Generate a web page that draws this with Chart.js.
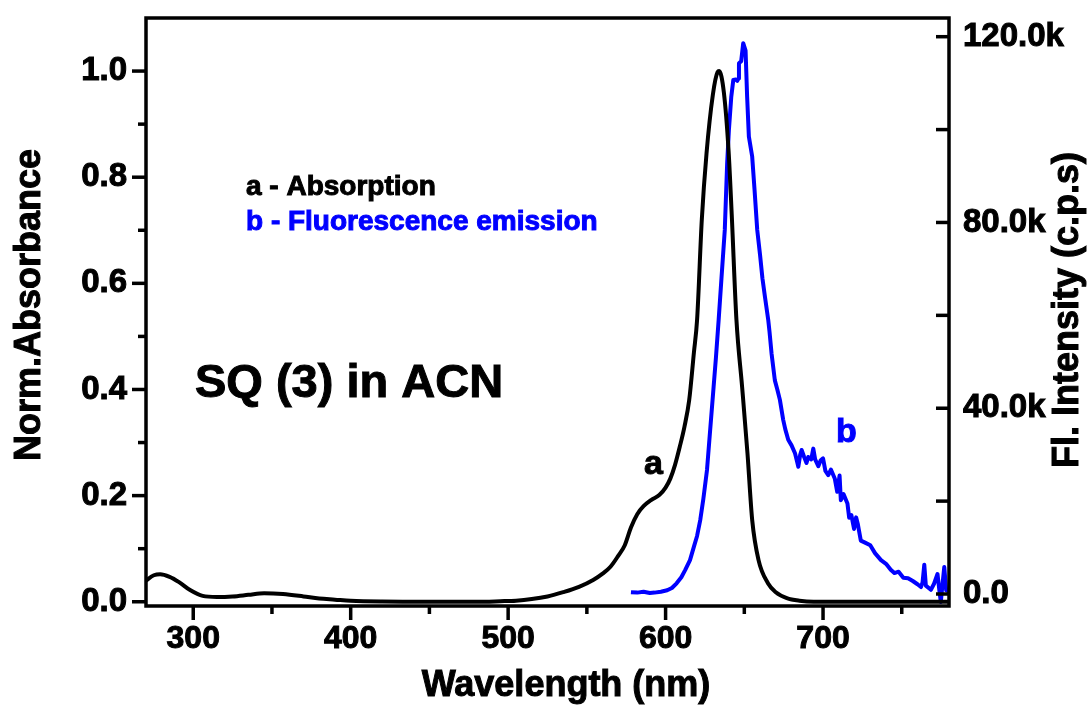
<!DOCTYPE html>
<html>
<head>
<meta charset="utf-8">
<title>SQ (3) in ACN</title>
<script src="https://cdn.jsdelivr.net/npm/chart.js@4.4.1/dist/chart.umd.min.js"></script>
<style>
    html, body { margin: 0; padding: 0; background: #fff; }
    #wrap { width: 1092px; height: 705px; position: relative; }
</style>
</head>
<body>
<div id="wrap"><canvas id="spectrum"></canvas></div>
<script>
// absorption (a), normalised
const absWavelength = [270, 275, 279, 285, 291, 298, 306, 315, 325, 335, 345, 357, 370, 380, 390, 400, 420, 450, 480, 495,
    505, 515, 525, 535, 545, 554, 560, 565, 570, 574, 578, 582, 586, 591, 596, 600, 603, 606, 609, 612,
    615, 618, 620, 623, 626, 630, 633, 634, 637, 640, 642, 645, 648.6, 652, 655, 659, 665, 670, 677, 685,
    694, 720, 750, 780];
const absValues = [0.040, 0.050, 0.052, 0.047, 0.037, 0.022, 0.011, 0.009, 0.010, 0.013, 0.016, 0.0145, 0.010, 0.006, 0.004, 0.002, 0.0005, 0.0, 0.0, 0.001,
    0.002, 0.005, 0.010, 0.018, 0.028, 0.041, 0.053, 0.066, 0.087, 0.106, 0.140, 0.165, 0.180, 0.192, 0.201, 0.215, 0.232, 0.258, 0.292, 0.330,
    0.380, 0.470, 0.531, 0.720, 0.845, 0.955, 0.998, 1.0, 0.960, 0.850, 0.730, 0.531, 0.405, 0.280, 0.154, 0.079, 0.035, 0.018, 0.007, 0.002,
    0.0, 0.0, 0.0, 0.0];

// fluorescence emission (b), counts per second
const flWavelength = [578, 582, 586, 590, 593, 597, 601, 604, 607, 610, 612.5, 615.5, 618, 620, 622, 624, 626.3, 628, 630.5, 632,
    633.7, 635.5, 637.6, 639.1, 640.2, 641.7, 643, 644.5, 645.5, 646.3, 646.6, 648, 649.3, 650.8, 651.8, 652.9, 655, 656.5, 658.2, 660,
    661.5, 663.1, 665.2, 666, 667.3, 669.4, 671, 672.6, 674.7, 676, 677.9, 680, 682.2, 683.5, 684.3, 685.5, 686.4, 688, 689.5, 690.6,
    692.5, 693.8, 695, 697, 698.5, 700, 701.5, 703.3, 705, 707.5, 709, 710.5, 711.3, 713, 715.5, 716.6, 718, 719.7, 721, 722,
    724, 727, 730, 733, 736.8, 740, 743, 745.3, 748, 751, 754, 757, 760, 762.2, 763.2, 764.3, 765.3, 768.5, 770.5, 772.7,
    773.8, 774.8, 776, 777, 778.2, 780];
const flValues = [400, 300, 500, 200, 300, 500, 800, 1300, 2300, 3600, 5200, 7300, 10200, 12500, 15900, 20500, 26700, 34000, 44600, 51000,
    59000, 68000, 78400, 92700, 99900, 107000, 110700, 110800, 110500, 111000, 114300, 114700, 118600, 117000, 107000, 98500, 94200, 87000, 78400, 73000,
    68000, 64000, 59000, 56500, 51800, 46000, 44000, 41800, 37500, 35500, 33200, 32000, 30300, 28500, 27400, 30000, 31000, 29500, 28200, 29500,
    29000, 31300, 29000, 27500, 28800, 29200, 26500, 25600, 26800, 24800, 22000, 25500, 20200, 21500, 19500, 16400, 17000, 14000, 16500, 15200,
    11500, 11000, 10500, 8800, 7300, 6500, 5200, 4500, 4800, 3500, 3400, 2800, 2100, 1500, 2500, 6300, 1800, 900, 2200, 4300,
    1000, -1700, 2500, 5800, 800, 500];

// tick values
const xMajorTicks = [300, 400, 500, 600, 700];
const xMinorTicks = [350, 450, 550, 650, 750];
const absMajorTicks = [0, 0.2, 0.4, 0.6, 0.8, 1.0];
const absMinorTicks = [0.1, 0.3, 0.5, 0.7, 0.9];
const flTicks = [0, 20000, 40000, 60000, 80000, 100000, 120000];
const flLabelTicks = [0, 40000, 80000, 120000];

const FONT = '"Liberation Sans", Arial, sans-serif';
const BLUE = '#0000FF';

const toPoints = (xs, ys) => xs.map((x, i) => ({ x, y: ys[i] }));

const setTicks = (values) => (scale) => { scale.ticks = values.map(v => ({ value: v })); };

// fixed axis box sizes, no extra room for overhanging labels
const fixBox = (w, h) => (s) => {
    if (w !== null) s.width = w;
    if (h !== null) s.height = h;
    s.paddingTop = 0;
    s.paddingBottom = 0;
    s.paddingLeft = 0;
    s.paddingRight = 0;
};

// heavy text: fill plus a thin outline in the same colour
const heavyText = (ctx, text, x, y, color) => {
    ctx.fillStyle = color;
    ctx.strokeStyle = color;
    ctx.lineWidth = 1;
    ctx.fillText(text, x, y);
    ctx.strokeText(text, x, y);
};

// frame, tick marks, titles and the text labels inside the plot
const decorations = {
    id: 'decorations',
    afterDraw: (chart) => {
        const { ctx, chartArea: a, scales } = chart;
        ctx.save();
        ctx.strokeStyle = '#000';
        ctx.lineWidth = 3.5;
        ctx.lineCap = 'butt';
        ctx.strokeRect(a.left, a.top, a.right - a.left, a.bottom - a.top);

        const line = (x1, y1, x2, y2) => {
            ctx.beginPath();
            ctx.moveTo(x1, y1);
            ctx.lineTo(x2, y2);
            ctx.stroke();
        };

        xMajorTicks.forEach(v => { const p = scales.x.getPixelForValue(v); line(p, a.bottom, p, a.bottom + 14); });
        xMinorTicks.forEach(v => { const p = scales.x.getPixelForValue(v); line(p, a.bottom, p, a.bottom + 8); });
        absMajorTicks.forEach(v => { const p = scales.y.getPixelForValue(v); line(a.left, p, a.left - 14, p); });
        absMinorTicks.forEach(v => { const p = scales.y.getPixelForValue(v); line(a.left, p, a.left - 8, p); });
        flTicks.forEach(v => { const p = scales.y1.getPixelForValue(v); line(a.right, p, a.right - 13, p); });

        ctx.textBaseline = 'alphabetic';

        // axis titles
        ctx.font = `bold 36px ${FONT}`;
        ctx.textAlign = 'center';
        heavyText(ctx, 'Wavelength (nm)', 566, 696, '#000');

        ctx.save();
        ctx.translate(40, 305);
        ctx.rotate(-Math.PI / 2);
        heavyText(ctx, 'Norm.Absorbance', 0, 0, '#000');
        ctx.restore();

        ctx.save();
        ctx.translate(1078, 310);
        ctx.rotate(-Math.PI / 2);
        heavyText(ctx, 'Fl. Intensity (c.p.s)', 0, 0, '#000');
        ctx.restore();

        // annotations
        ctx.textAlign = 'left';
        ctx.font = `bold 28px ${FONT}`;
        heavyText(ctx, 'a - Absorption', 246, 195, '#000');
        heavyText(ctx, 'b - Fluorescence emission', 246, 230, BLUE);

        ctx.font = `bold 47px ${FONT}`;
        heavyText(ctx, 'SQ (3) in ACN', 195, 397, '#000');

        ctx.font = `bold 34px ${FONT}`;
        heavyText(ctx, 'a', 644, 474, '#000');
        heavyText(ctx, 'b', 836, 442, BLUE);

        ctx.restore();
    }
};

const tickFont = (size) => ({ family: FONT, size, weight: 'bold' });

new Chart(document.getElementById('spectrum'), {
    type: 'line',
    data: {
        datasets: [
            {
                label: 'a - Absorption',
                data: toPoints(absWavelength, absValues),
                yAxisID: 'y',
                borderColor: '#000',
                borderWidth: 4,
                pointRadius: 0,
                cubicInterpolationMode: 'monotone',
                fill: false
            },
            {
                label: 'b - Fluorescence emission',
                data: toPoints(flWavelength, flValues),
                yAxisID: 'y1',
                borderColor: BLUE,
                borderWidth: 4,
                borderJoinStyle: 'round',
                pointRadius: 0,
                tension: 0,
                fill: false
            }
        ]
    },
    options: {
        responsive: true,
        maintainAspectRatio: false,
        animation: false,
        layout: { padding: { top: 18, left: 0, right: 0, bottom: 0 } },
        plugins: { legend: { display: false }, tooltip: { enabled: false } },
        scales: {
            x: {
                type: 'linear',
                min: 270,
                max: 780,
                afterBuildTicks: setTicks(xMajorTicks),
                afterFit: fixBox(null, 99),
                grid: { display: false, drawTicks: false },
                border: { display: false },
                ticks: {
                    autoSkip: false,
                    maxRotation: 0,
                    padding: 14,
                    color: '#000',
                    textStrokeColor: '#000',
                    textStrokeWidth: 1,
                    font: tickFont(32),
                    callback: (v) => String(v)
                }
            },
            y: {
                type: 'linear',
                position: 'left',
                min: -0.008,
                max: 1.1,
                afterBuildTicks: setTicks(absMajorTicks),
                afterFit: fixBox(146, null),
                grid: { display: false, drawTicks: false },
                border: { display: false },
                ticks: {
                    autoSkip: false,
                    padding: 19,
                    color: '#000',
                    textStrokeColor: '#000',
                    textStrokeWidth: 1,
                    font: tickFont(33),
                    callback: (v) => Number(v).toFixed(1)
                }
            },
            y1: {
                type: 'linear',
                position: 'right',
                min: -2584,
                max: 124027,
                afterBuildTicks: setTicks(flLabelTicks),
                afterFit: fixBox(143, null),
                grid: { display: false, drawTicks: false },
                border: { display: false },
                ticks: {
                    autoSkip: false,
                    padding: 14,
                    color: '#000',
                    textStrokeColor: '#000',
                    textStrokeWidth: 1,
                    font: tickFont(33),
                    callback: (v) => v === 0 ? '0.0' : (v / 1000).toFixed(1) + 'k'
                }
            }
        }
    },
    plugins: [decorations]
});
</script>
</body>
</html>
